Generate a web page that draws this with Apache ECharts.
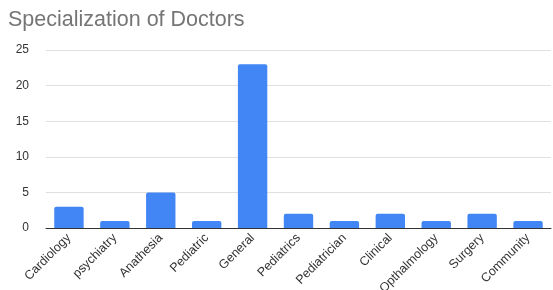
<!DOCTYPE html>
<html>
<head>
<meta charset="utf-8">
<script src="https://cdn.jsdelivr.net/npm/echarts@6/dist/echarts.min.js"></script>
<style>
html, body { margin: 0; padding: 0; background: #fff; }
#chart { width: 553px; height: 290px; }
</style>
</head>
<body>
<div id="chart"></div>
<script>
// data
const specialties = ['Cardiology', 'psychiatry', 'Anathesia', 'Pediatric', 'General', 'Pediatrics',
    'Pediatrician', 'Clinical', 'Opthalmology', 'Surgery', 'Community'];
const doctorCounts = [3, 1, 5, 1, 23, 2, 1, 2, 1, 2, 1];
const yTicks = [0, 5, 10, 15, 20, 25];

const chart = echarts.init(document.getElementById('chart'));
chart.setOption({
    animation: false,
    title: {
        text: 'Specialization of Doctors',
        left: 3,
        top: 4,
        textStyle: { fontFamily: 'Liberation Sans', fontSize: 21.5, fontWeight: 'normal', color: '#757575' }
    },
    grid: { left: 46, right: 2, top: 50, bottom: 62, containLabel: false, outerBoundsMode: 'none' },
    xAxis: {
        type: 'category',
        data: specialties,
        axisLine: { lineStyle: { color: '#333', width: 1 } },
        axisTick: { show: false },
        axisLabel: {
            rotate: 45,
            interval: 0,
            margin: 8,
            fontFamily: 'Liberation Sans',
            fontSize: 12.5,
            color: '#333'
        }
    },
    yAxis: {
        type: 'value',
        min: yTicks[0],
        max: yTicks[yTicks.length - 1],
        interval: 5,
        axisLine: { show: false },
        axisTick: { show: false },
        splitLine: { lineStyle: { color: '#e0e0e0' } },
        axisLabel: { margin: 17, fontFamily: 'Liberation Sans', fontSize: 12, color: '#333' }
    },
    series: [{
        type: 'bar',
        data: doctorCounts,
        barWidth: '64%',
        itemStyle: { color: '#4285f4', borderRadius: [2, 2, 0, 0] }
    }]
});
</script>
</body>
</html>
